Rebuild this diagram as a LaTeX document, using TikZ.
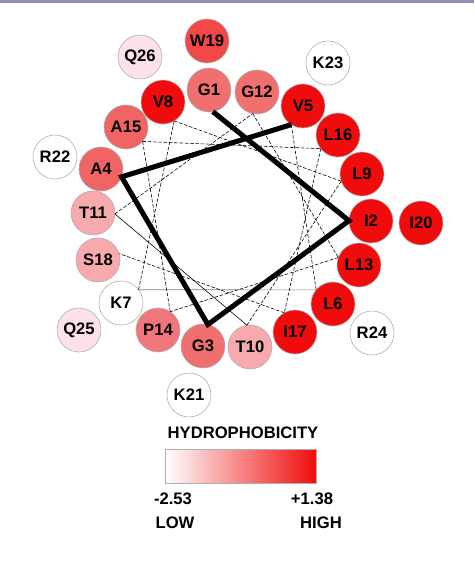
\documentclass[tikz,border=0pt]{standalone}
\usepackage{fontspec}
\setmainfont{Liberation Sans}
\usepackage{xcolor}
\usepackage{tikz}
\usetikzlibrary{shapes,arrows,positioning,calc}

\definecolor{hpmax}{RGB}{240,12,12}
\definecolor{hpW}{RGB}{242,72,72}
\definecolor{hpA}{RGB}{240,100,100}
\definecolor{hpG}{RGB}{240,112,112}
\definecolor{hpP}{RGB}{240,118,124}
\definecolor{hpT}{RGB}{247,170,172}
\definecolor{hpQ}{RGB}{252,226,232}
\definecolor{rimgray}{RGB}{175,175,175}
\definecolor{pagebar}{RGB}{142,142,184}

\begin{document}
\begin{tikzpicture}[x=0.03cm, y=-0.03cm,
    residue/.style={circle, draw=rimgray, line width=0.5pt, minimum size=1.32cm, inner sep=0pt,
        font=\fontsize{14.2}{16}\selectfont\bfseries},
    label/.style={font=\fontsize{14.2}{16}\selectfont\bfseries, inner sep=0pt},
    helixbond/.style={line width=4.3pt, line join=miter},
    turn/.style={line width=0.5pt, dash pattern=on 3pt off 1.5pt},
    turnsolid/.style={line width=0.5pt}]

    \useasboundingbox (0,0) rectangle (474,561);
    \fill[pagebar] (0,0) rectangle (474,2.5);

    \coordinate (ctr) at (232,219);

    % inner turn, residues 1-18
    \node[residue, fill=hpG] (G1) at (209,90) {G1};
    \node[residue, fill=hpmax] (I2) at (371,221) {I2};
    \node[residue, fill=hpG] (G3) at (203,346) {G3};
    \node[residue, fill=hpA] (A4) at (101,169) {A4};
    \node[residue, fill=hpmax] (V5) at (303,106) {V5};
    \node[residue, fill=hpmax] (L6) at (333,304) {L6};
    \node[residue, fill=white] (K7) at (121,303) {K7};
    \node[residue, fill=hpmax] (V8) at (163,102) {V8};
    \node[residue, fill=hpmax] (L9) at (362,174) {L9};
    \node[residue, fill=hpT] (T10) at (250,347) {T10};
    \node[residue, fill=hpT] (T11) at (93,213) {T11};
    \node[residue, fill=hpG] (G12) at (257,92) {G12};
    \node[residue, fill=hpmax] (L13) at (359,265) {L13};
    \node[residue, fill=hpP] (P14) at (158,330) {P14};
    \node[residue, fill=hpA] (A15) at (126,127) {A15};
    \node[residue, fill=hpmax] (L16) at (338,135) {L16};
    \node[residue, fill=hpmax] (I17) at (295,332) {I17};
    \node[residue, fill=hpT] (S18) at (98,260) {S18};

    % outer turn, residues 19-26
    \node[residue, fill=hpW] (W19) at (207,41) {W19};
    \node[residue, fill=hpmax] (I20) at (421,223) {I20};
    \node[residue, fill=white] (K21) at (189,395) {K21};
    \node[residue, fill=white] (R22) at (55,157) {R22};
    \node[residue, fill=white] (K23) at (328,63) {K23};
    \node[residue, fill=white] (R24) at (372,333) {R24};
    \node[residue, fill=hpQ] (Q25) at (79,330) {Q25};
    \node[residue, fill=hpQ] (Q26) at (140,57) {Q26};

    % bond points on the inner side of each circle
    \foreach \r in {G1,I2,G3,A4,V5,L6,K7,V8,L9,T10,T11,G12,L13,P14,A15,L16,I17,S18}
        \coordinate (in-\r) at ($(\r)!0.66cm!(ctr)$);

    \draw[turn] (in-V5) -- (in-L6);
    \draw[turnsolid, draw=gray] (in-L6) -- (in-K7);
    \draw[turn] (in-K7) -- (in-V8);
    \draw[turn] (in-V8) -- (in-L9);
    \draw[turn] (in-L9) -- (in-T10);
    \draw[turnsolid] (in-T10) -- (in-T11);
    \draw[turn] (in-T11) -- (in-G12);
    \draw[turn] (in-G12) -- (in-L13);
    \draw[turn] (in-L13) -- (in-P14);
    \draw[turn] (in-P14) -- (in-A15);
    \draw[turn] (in-A15) -- (in-L16);
    \draw[turn] (in-L16) -- (in-I17);
    \draw[turn] (in-I17) -- (in-S18);
    \draw[helixbond] (in-G1) -- (in-I2) -- (in-G3) -- (in-A4) -- (in-V5);

    % scale
    \node[label] (title) at (243,433) {HYDROPHOBICITY};
    \shade[left color=white, right color=hpmax, draw=rimgray] (165,449) rectangle (316,483);
    \node[label] (min) at (173,499) {-2.53};
    \node[label] (max) at (312,499) {+1.38};
    \node[label] (low) at (175,523) {LOW};
    \node[label] (high) at (321,523) {HIGH};
\end{tikzpicture}
\end{document}
